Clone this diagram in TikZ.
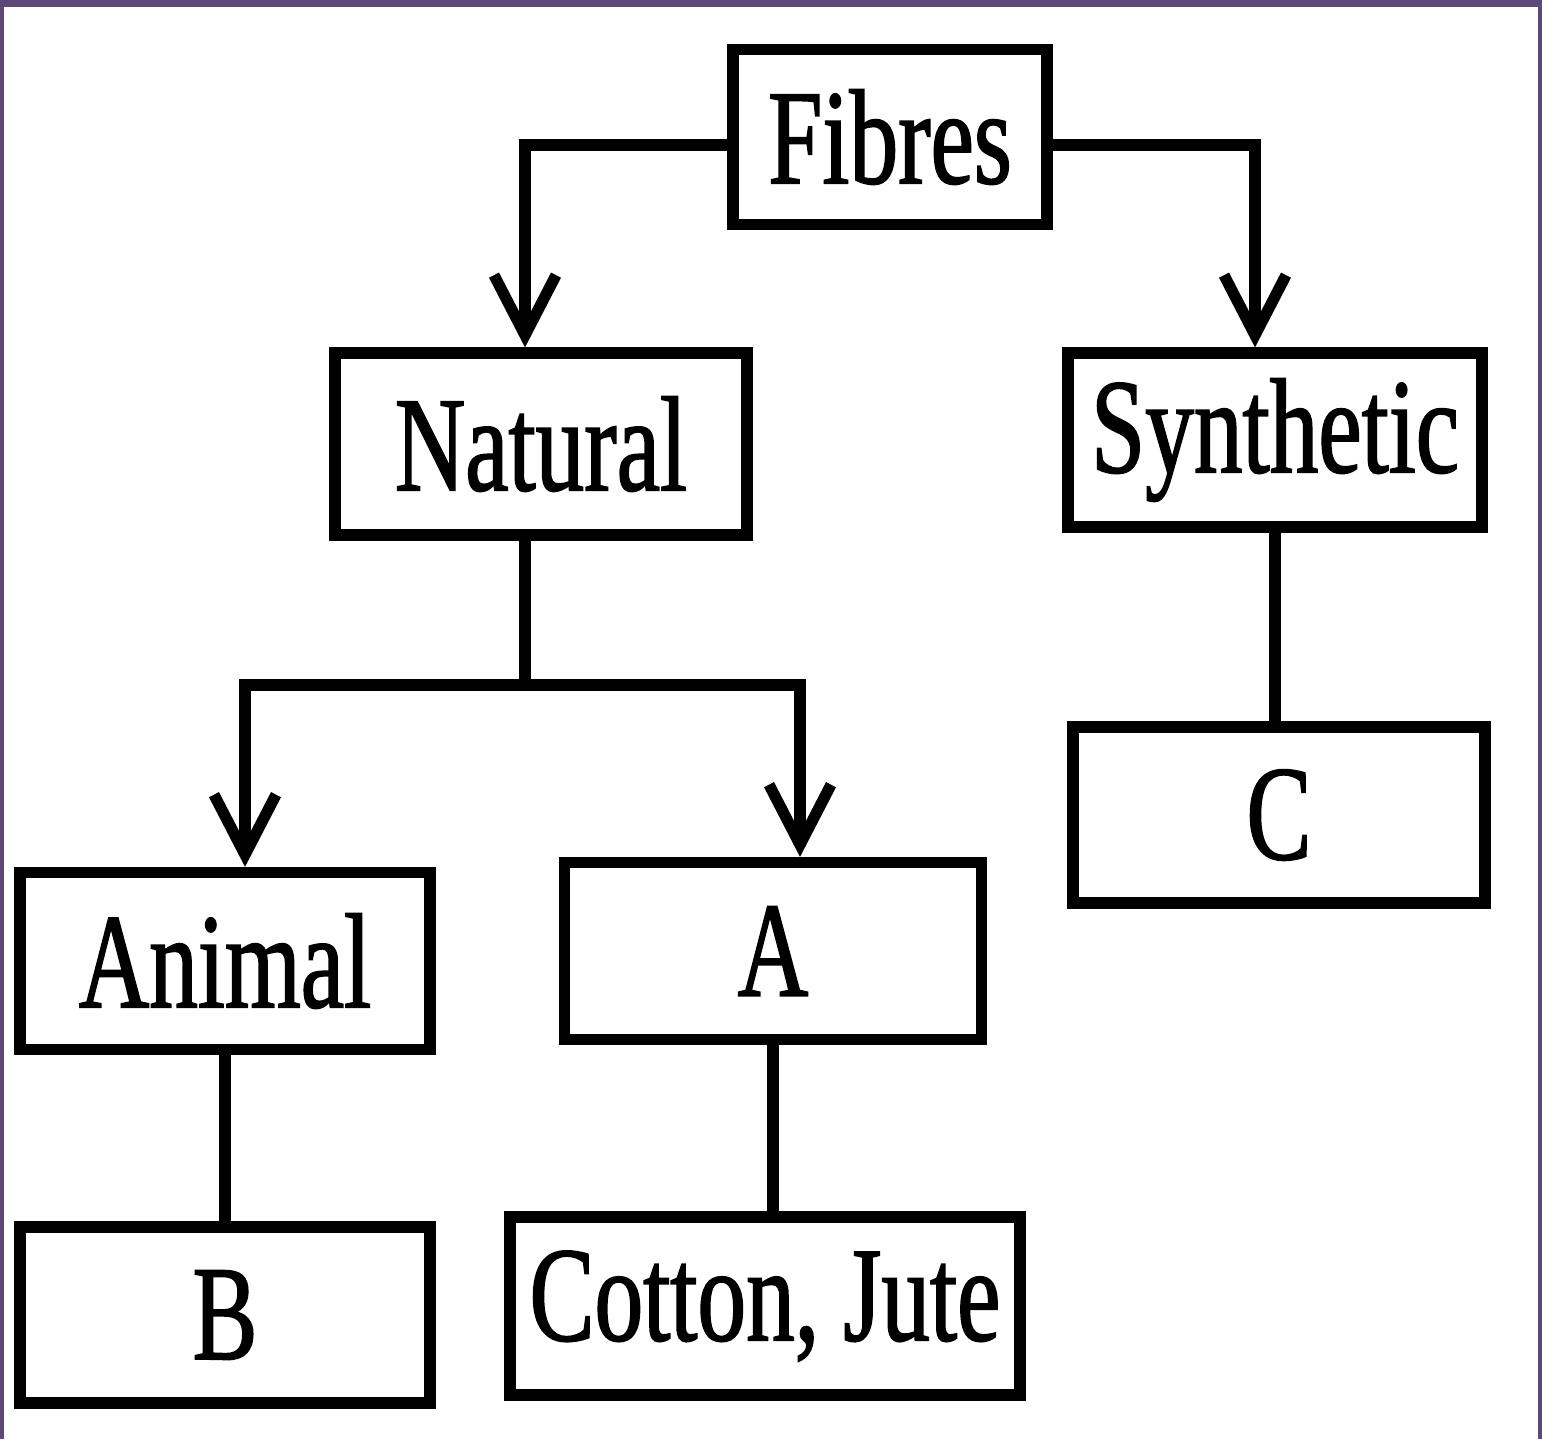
\documentclass[tikz,border=0pt]{standalone}
\usepackage{fontspec}
\setmainfont{Liberation Serif}[FakeStretch=0.72, FakeBold=1.2]
\usetikzlibrary{arrows.meta, positioning, calc}
\definecolor{framepurple}{RGB}{94,72,122}

\begin{document}
\begin{tikzpicture}[
    box/.style={rectangle, draw, line width=3.2pt, inner sep=0pt, align=center, font=\fontsize{38.5}{40}\selectfont},
    flow/.style={-{Straight Barb[length=0.6cm, width=0.62cm, line width=3.2pt]}, line width=3.2pt},
    plain/.style={line width=3.2pt}
]
    % Frame
    \useasboundingbox (0,0) rectangle (15.42,-14.39);
    \fill[framepurple] (0,0) rectangle (15.42,-0.07);
    \fill[framepurple] (0,0) rectangle (0.04,-14.39);
    \fill[framepurple] (15.38,0) rectangle (15.42,-14.39);

    % Boxes
    \node[box, minimum width=3.14cm, minimum height=1.75cm] (fibres) at (8.90,-1.37) {Fibres};
    \node[box, minimum width=4.12cm, minimum height=1.82cm] (natural) at (5.41,-4.44) {Natural};
    \node[box, minimum width=4.14cm, minimum height=1.74cm] (synthetic) at (12.75,-4.40) {Synthetic};
    \node[box, minimum width=4.12cm, minimum height=1.76cm] (cbox) at (12.79,-8.15) {C};
    \node[box, minimum width=4.10cm, minimum height=1.77cm] (animal) at (2.25,-9.61) {Animal};
    \node[box, minimum width=4.17cm, minimum height=1.77cm] (abox) at (7.73,-9.51) {A};
    \node[box, minimum width=4.10cm, minimum height=1.76cm] (bbox) at (2.25,-13.15) {B};
    \node[box, minimum width=5.10cm, minimum height=1.78cm] (cotton) at (7.65,-13.06) {Cotton, Jute};

    % Branch point below Natural
    \coordinate (split) at (5.25,-6.85);

    % Arrows
    \draw[flow] ([yshift=-0.08cm]fibres.west) -| ([xshift=-0.16cm]natural.north);
    \draw[flow] ([yshift=-0.08cm]fibres.east) -| ([xshift=-0.20cm]synthetic.north);
    \draw[plain] (split |- natural.south) -- (split);
    \draw[flow] (split) -| ([xshift=0.20cm]animal.north);
    \draw[flow] (split) -| ([xshift=0.27cm]abox.north);

    % Plain links
    \draw[plain] (synthetic.south) -- (synthetic.south |- cbox.north);
    \draw[plain] (animal.south) -- (animal.south |- bbox.north);
    \draw[plain] (abox.south) -- (abox.south |- cotton.north);

\end{tikzpicture}
\end{document}
